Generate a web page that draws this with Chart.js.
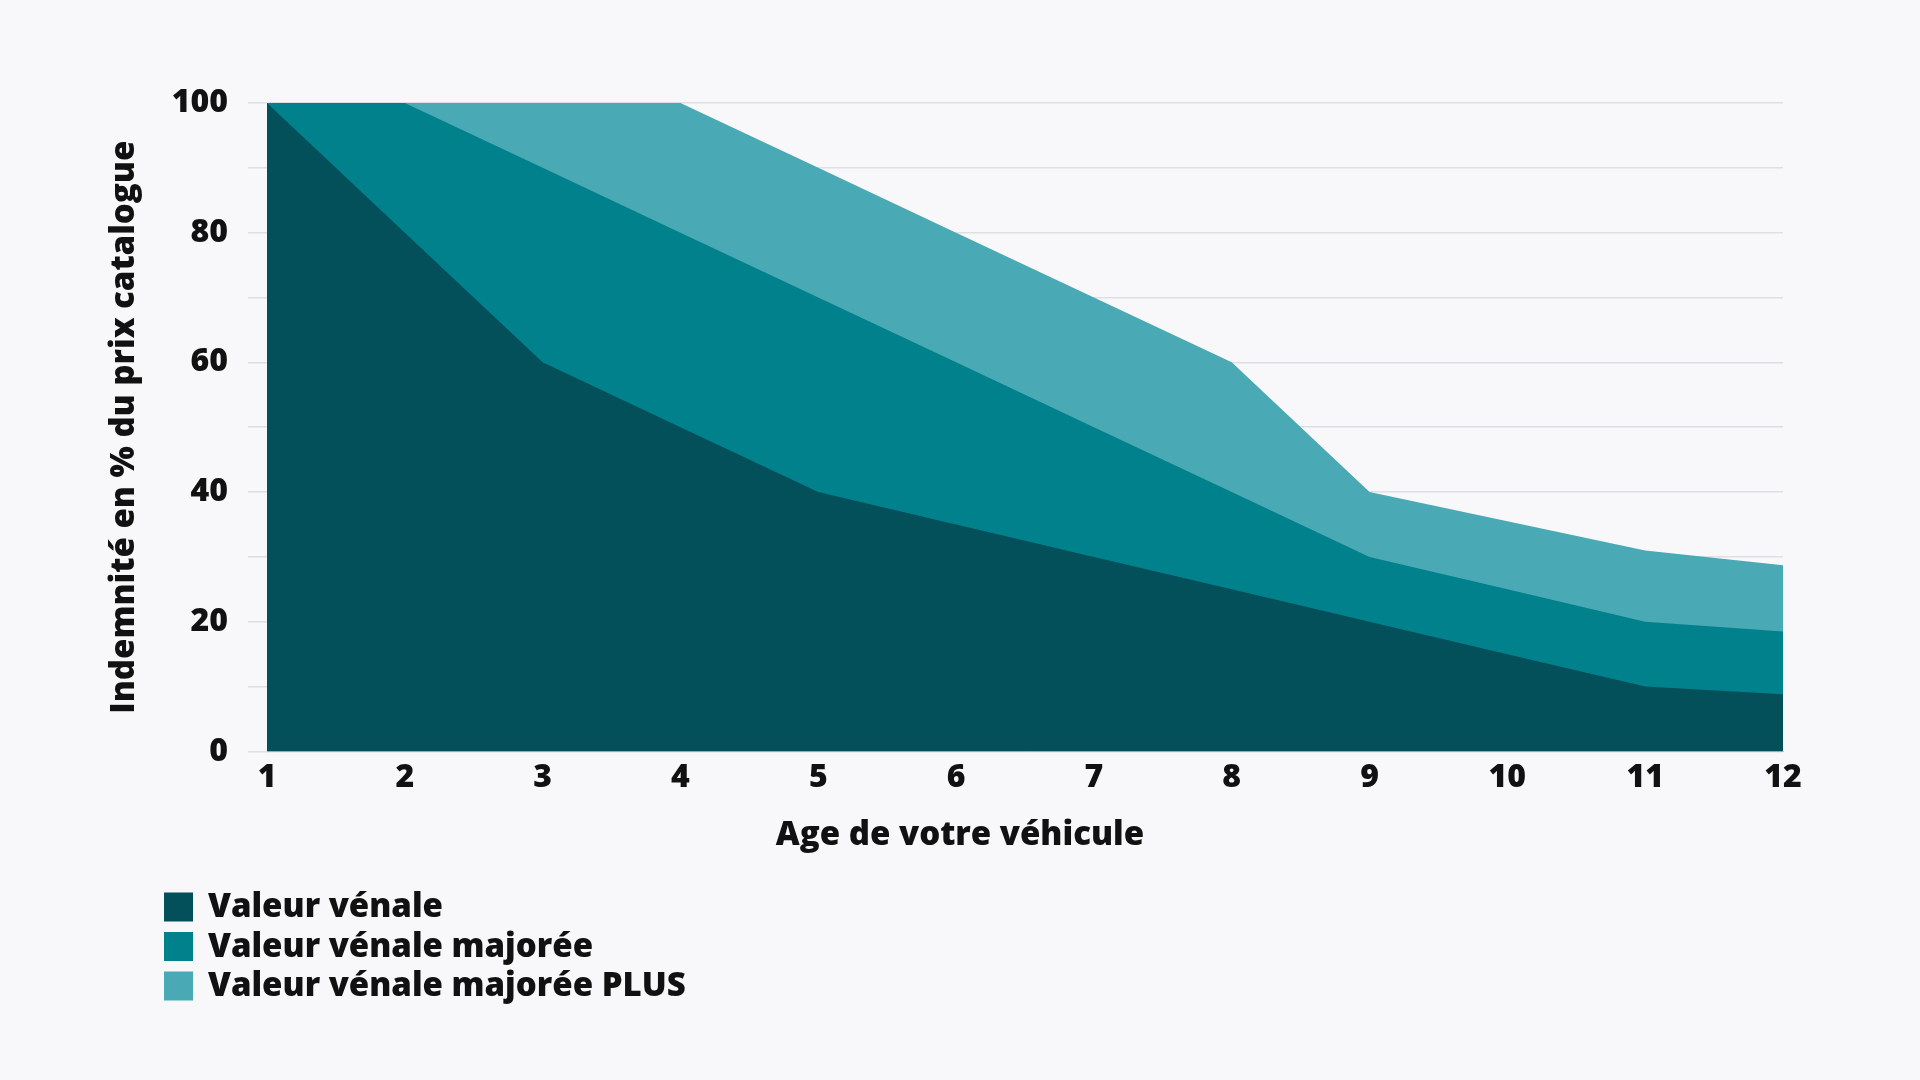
<!DOCTYPE html>
<html>
<head>
<meta charset="utf-8">
<script src="https://cdn.jsdelivr.net/npm/chart.js@4/dist/chart.umd.min.js"></script>
<style>
  html, body { margin: 0; padding: 0; background: #f8f8fa; }
  #wrap { width: 1920px; height: 1080px; }
</style>
</head>
<body>
<div id="wrap"><canvas id="chart" width="1920" height="1080" style="width:1920px;height:1080px"></canvas></div>
<script>
// Age of the vehicle (years)
const ages = ["1", "2", "3", "4", "5", "6", "7", "8", "9", "10", "11", "12"];

// Indemnity in % of catalogue price
const valeurVenale = [100, 80, 60, 50, 40, 35, 30, 25, 20, 15, 10, 8.8];
const valeurMajoree = [100, 100, 90, 80, 70, 60, 50, 40, 30, 25, 20, 18.5];
const valeurMajoreePlus = [100, 100, 100, 100, 90, 80, 70, 60, 40, 35.5, 31, 28.7];

const seriesNames = ["Valeur vénale", "Valeur vénale majorée", "Valeur vénale majorée PLUS"];
const seriesColors = ["#034f5a", "#01818c", "#49a9b4"];

const FONT = "'Open Sans', Lato, sans-serif";
const TEXT = "#111111";

// Legend drawn as a vertical list under the chart
const legendList = {
  id: "legendList",
  afterDraw(chart) {
    const ctx = chart.ctx;
    ctx.save();
    ctx.font = `800 33px ${FONT}`;
    ctx.textBaseline = "middle";
    chart.data.datasets.forEach((ds, i) => {
      const y = 907 + i * 39.5;
      ctx.fillStyle = ds.backgroundColor;
      ctx.fillRect(164, y - 14.5, 29, 29);
      ctx.fillStyle = TEXT;
      ctx.fillText(ds.label, 208, y + 1);
    });
    ctx.restore();
  },
};

function makeDataset(label, data, color) {
  return {
    label: label,
    data: data,
    backgroundColor: color,
    borderColor: color,
    borderWidth: 0,
    pointRadius: 0,
    pointHoverRadius: 0,
    tension: 0,
    fill: "origin",
  };
}

new Chart(document.getElementById("chart"), {
  type: "line",
  data: {
    labels: ages,
    datasets: [
      makeDataset(seriesNames[0], valeurVenale, seriesColors[0]),
      makeDataset(seriesNames[1], valeurMajoree, seriesColors[1]),
      makeDataset(seriesNames[2], valeurMajoreePlus, seriesColors[2]),
    ],
  },
  options: {
    responsive: false,
    animation: false,
    layout: {
      padding: { left: 137, right: 137, top: 103, bottom: 225 },
    },
    plugins: {
      legend: { display: false },
      tooltip: { enabled: false },
      title: {
        display: true,
        position: "bottom",
        text: "Age de votre véhicule",
        color: TEXT,
        font: { family: FONT, size: 33, weight: "800" },
        padding: { top: 14, bottom: 0 },
      },
    },
    scales: {
      x: {
        offset: false,
        grid: { display: false, drawTicks: false },
        border: { display: true, color: "#a6dbe2", width: 1 },
        ticks: {
          color: TEXT,
          padding: 7,
          font: { family: FONT, size: 32, weight: "800" },
        },
        afterFit: (scale) => {
          scale.height = 50;
        },
      },
      y: {
        min: 0,
        max: 100,
        grid: { color: "#dedfe3", lineWidth: 1.5, tickLength: 19 },
        border: { display: true, color: "#a6dbe2", width: 1 },
        ticks: {
          stepSize: 10,
          padding: 20,
          color: TEXT,
          font: { family: FONT, size: 32, weight: "800" },
          callback: (v) => (v % 20 === 0 ? v : ""),
        },
        title: {
          display: true,
          text: "Indemnité en % du prix catalogue",
          color: TEXT,
          font: { family: FONT, size: 33, weight: "800" },
          padding: { top: -32, bottom: 0 },
        },
        afterFit: (scale) => {
          scale.width = 130;
        },
      },
    },
  },
  plugins: [legendList],
});
</script>
</body>
</html>
